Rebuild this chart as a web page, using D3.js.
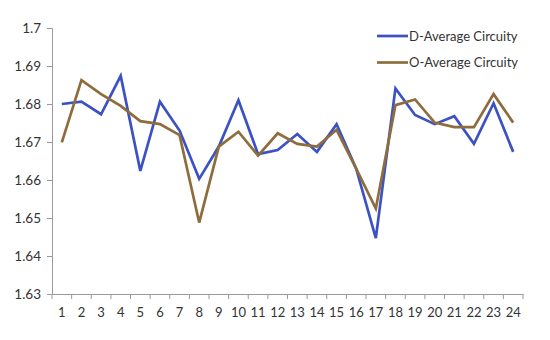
<!DOCTYPE html>
<html><head><meta charset="utf-8">
<script src="https://cdn.jsdelivr.net/npm/d3@7"></script>
<style>body{margin:0;background:#fff;} text{font-family:Lato,"Open Sans",sans-serif;fill:#333;}</style>
</head><body><svg id="c" width="550" height="340"></svg>
<script>
const categories = d3.range(1, 25).map(String);
const seriesNames = ["D-Average Circuity", "O-Average Circuity"];
const dValues = [1.6800,1.6806,1.6773,1.6874,1.6624,1.6806,1.6730,1.6603,1.6688,1.6810,1.6668,1.6679,1.6721,1.6674,1.6747,1.6630,1.6447,1.6841,1.6771,1.6747,1.6768,1.6695,1.6802,1.6674];
const oValues = [1.6699,1.6863,1.6826,1.6795,1.6755,1.6747,1.6718,1.6488,1.6688,1.6727,1.6664,1.6723,1.6695,1.6688,1.6732,1.6630,1.6525,1.6797,1.6812,1.6751,1.6739,1.6739,1.6826,1.6751];
const yTicks = [1.63,1.64,1.65,1.66,1.67,1.68,1.69,1.7];
const colors = ["#3C52C2", "#8E6D3D"];

const svg = d3.select("#c");
const m = {left:52, right:27, top:28, bottom:46};
const W = 550, H = 340;
const x = d3.scaleBand().domain(categories).range([m.left, W - m.right]);
const y = d3.scaleLinear().domain([1.63, 1.70]).range([H - m.bottom, m.top]);

// y axis
const ya = svg.append("g").attr("transform", `translate(${m.left},0)`)
  .call(d3.axisLeft(y).tickValues(yTicks).tickFormat(d => d3.format("")(+d.toFixed(2))).tickSize(5).tickPadding(6));
ya.selectAll("path,line").attr("stroke", "#9a9a9a");
ya.selectAll("text").style("font-size", "13.5px");

// x axis
const xa = svg.append("g").attr("transform", `translate(0,${H - m.bottom})`)
  .call(d3.axisBottom(x).tickSize(0).tickPadding(14));
xa.select("path").attr("stroke", "#9a9a9a");
xa.selectAll("text").style("font-size", "13px");
// tick marks at band boundaries
const bounds = categories.map(c => x(c)).concat([x.range()[1]]);
xa.selectAll("line.b").data(bounds).enter().append("line").attr("class","b")
  .attr("x1", d => d).attr("x2", d => d).attr("y1", 0).attr("y2", 5).attr("stroke", "#9a9a9a");

const line = d3.line().x((d,i) => x(categories[i]) + x.bandwidth()/2).y(d => y(d));
[dValues, oValues].forEach((vals, k) => {
  svg.append("path").datum(vals).attr("d", line).attr("fill","none")
    .attr("stroke", colors[k]).attr("stroke-width", 2.7).attr("stroke-linejoin","miter");
});

// legend
const lg = svg.append("g");
seriesNames.forEach((n, k) => {
  const yy = 36 + k * 26.5;
  lg.append("line").attr("x1", 377).attr("x2", 408).attr("y1", yy).attr("y2", yy)
    .attr("stroke", colors[k]).attr("stroke-width", 2.7);
  lg.append("text").attr("x", 409).attr("y", yy).attr("dy", "0.35em").style("font-size","13px").text(n);
});
</script></body></html>
